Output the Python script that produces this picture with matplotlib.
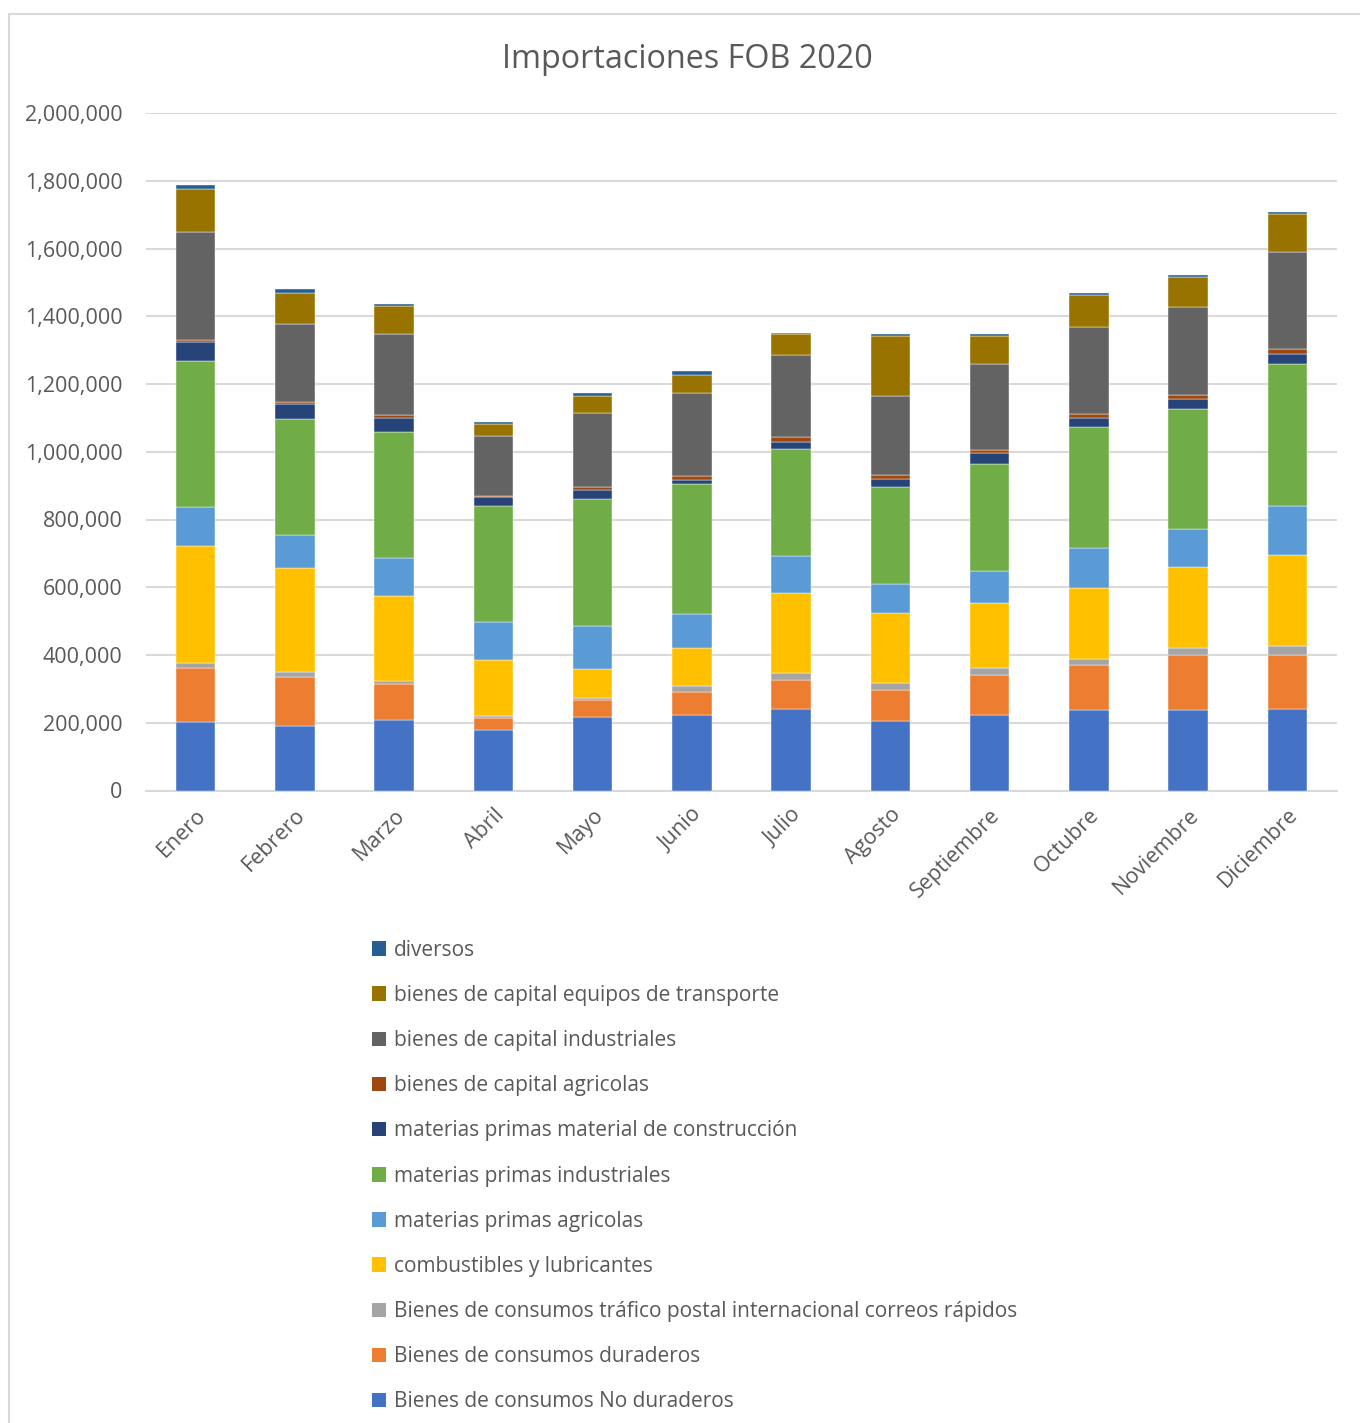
import matplotlib
matplotlib.use("Agg")
import matplotlib.pyplot as plt
from matplotlib.patches import Rectangle, Patch
import numpy as np

plt.rcParams['font.family'] = ['Open Sans', 'DejaVu Sans']

months = ["Enero", "Febrero", "Marzo", "Abril", "Mayo", "Junio", "Julio",
          "Agosto", "Septiembre", "Octubre", "Noviembre", "Diciembre"]

# values in thousands
no_duraderos = [203, 191, 209, 178, 217, 224, 240, 204, 222, 237, 239, 242]
duraderos = [158, 145, 104, 36, 49, 68, 87, 94, 120, 134, 162, 159]
trafico_postal = [15, 13, 10, 6, 8, 16, 19, 20, 21, 18, 21, 25]
combustibles = [345, 307, 250, 165, 84, 112, 238, 205, 190, 209, 237, 270]
mp_agricolas = [116, 99, 112, 112, 129, 100, 108, 88, 95, 119, 114, 144]
mp_industriales = [431, 342, 374, 343, 374, 385, 317, 285, 316, 355, 353, 418]
mp_construccion = [55, 43, 42, 25, 26, 13, 20, 23, 31, 27, 30, 31]
bc_agricolas = [8, 7, 7, 5, 9, 11, 14, 13, 11, 12, 11, 14]
bc_industriales = [318, 230, 241, 176, 217, 245, 243, 232, 252, 258, 260, 287]
bc_transporte = [127, 93, 80, 37, 51, 53, 63, 179, 85, 95, 89, 112]
diversos = [11, 11, 8, 5, 10, 10, 3, 5, 6, 6, 5, 6]

series_names = [
    "Bienes de consumos No duraderos",
    "Bienes de consumos duraderos",
    "Bienes de consumos tráfico postal internacional correos rápidos",
    "combustibles y lubricantes",
    "materias primas agricolas",
    "materias primas industriales",
    "materias primas material de construcción",
    "bienes de capital agricolas",
    "bienes de capital industriales",
    "bienes de capital equipos de transporte",
    "diversos",
]
series_values = [no_duraderos, duraderos, trafico_postal, combustibles, mp_agricolas,
                 mp_industriales, mp_construccion, bc_agricolas, bc_industriales,
                 bc_transporte, diversos]
colors = ["#4472C4", "#ED7D31", "#A5A5A5", "#FFC000", "#5B9BD5", "#70AD47",
          "#264478", "#9E480E", "#636363", "#997300", "#255E91"]

W, H = 1360, 1423
fig = plt.figure(figsize=(W / 100, H / 100), dpi=100)

# outer chart frame
fig.patches.append(Rectangle((9 / W, -0.1), 1.2, 1 - 14 / H + 0.1, transform=fig.transFigure,
                             fill=False, edgecolor="#D9D9D9", linewidth=1.5))

ax = fig.add_axes([146 / W, 1 - 790.5 / H, (1337 - 146) / W, (790.5 - 113) / H])
x = np.arange(len(months))
bottom = np.zeros(len(months))
for name, vals, c in zip(series_names, series_values, colors):
    v = np.array(vals, dtype=float) * 1000
    ax.bar(x, v, 0.40, bottom=bottom, color=c, label=name,
           edgecolor="white", linewidth=0.3, zorder=3)
    bottom += v

ax.set_xlim(-0.5, len(months) - 0.5)
ax.set_ylim(0, 2000000)
ax.set_yticks(np.arange(0, 2000001, 200000))
ax.yaxis.set_major_formatter(matplotlib.ticker.FuncFormatter(lambda v, p: f"{int(v):,}"))
ax.grid(axis="y", color="#D9D9D9", linewidth=1.5, zorder=0)
for s in ["top", "left", "right"]:
    ax.spines[s].set_visible(False)
ax.spines["bottom"].set_color("#D9D9D9")
ax.spines["bottom"].set_linewidth(1.5)
ax.tick_params(axis="both", length=0, labelsize=15.5, labelcolor="#595959")
ax.tick_params(axis="y", pad=17)
ax.set_xticks(x)
ax.set_xticklabels(months, rotation=45, ha="right", va="top", rotation_mode="anchor")
ax.tick_params(axis="x", pad=10)

fig.text(687 / W, 1 - 60 / H, "Importaciones FOB 2020", ha="center", va="center",
         fontsize=23.3, color="#595959")

handles = [Patch(facecolor=c, edgecolor="none") for c in colors][::-1]
labels = series_names[::-1]
fig.legend(handles, labels, loc="upper left", bbox_to_anchor=(353 / W, 1 - 921 / H),
           frameon=False, fontsize=15, labelcolor="#595959",
           handlelength=0.7, handleheight=0.7, handletextpad=0.35, labelspacing=1.16)

fig.savefig("out.png", dpi=100, facecolor="white")
